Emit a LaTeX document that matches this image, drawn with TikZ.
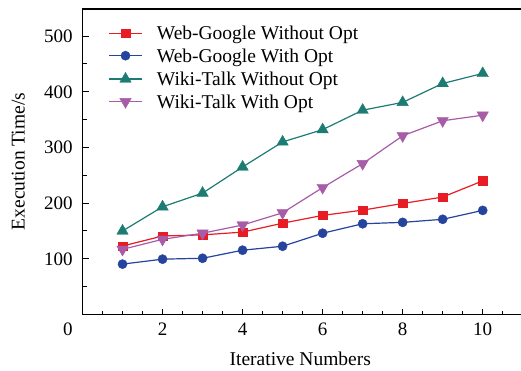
\documentclass[tikz,border=0pt]{standalone}
\usepackage{fontspec}
\setmainfont{Liberation Serif}
\usetikzlibrary{plotmarks}
\definecolor{cred}{RGB}{232,28,36}
\definecolor{cblue}{RGB}{36,68,158}
\definecolor{cteal}{RGB}{28,124,116}
\definecolor{cpurp}{RGB}{168,92,168}
\begin{document}
\begin{tikzpicture}[x=1pt,y=-1pt,
  lbl/.style={font=\fontsize{19.5}{20}\selectfont, inner sep=0pt},
  num/.style={font=\fontsize{19}{20}\selectfont, inner sep=0pt},
  axisline/.style={line width=1.3pt},
  series/.style={line width=1.2pt},
  sqm/.style={mark=square*, mark size=4.2pt, mark options={solid, line width=0.4pt}},
  cim/.style={mark=*, mark size=4.6pt, mark options={solid, line width=0.4pt}},
  upm/.style={mark=triangle*, mark size=6.6pt, mark options={solid, line width=0.4pt}},
  dnm/.style={mark=triangle*, mark size=6.6pt, mark options={solid, line width=0.4pt, rotate=180}},
]
\useasboundingbox (0,0) rectangle (521,371);
% axes frame (right side cut off)
\draw[axisline] (530,9) -- (82.5,9) -- (82.5,314.5) -- (530,314.5);

\begin{scope}[shift={(82.5,314.5)}, x=40.02pt, y=0.5567pt]
  % y ticks
  \foreach \v in {100,200,300,400,500}{
    \draw[line width=1pt] (0,\v) -- ++(6pt,0);
    \node[num, anchor=east] (yl\v) at ([xshift=-9.8pt]0,\v) {\v};
  }
  \foreach \v in {50,150,250,350,450}{
    \draw[line width=1pt] (0,\v) -- ++(4pt,0);
  }
  % x ticks
  \foreach \t in {0.5,1,...,12}{
    \draw[line width=1pt] (\t,0) -- ++(0,3.8pt);
  }
  \foreach \t in {2,4,6,8,10}{
    \draw[line width=1pt] (\t,0) -- ++(0,5.5pt);
    \node[num, anchor=north] (xl\t) at ([yshift=-8.5pt]\t,0) {\t};
  }

  % data
  \draw[series, cred, sqm] plot coordinates {(1,123) (2,141) (3,143) (4,148) (5,164) (6,178) (7,187.5) (8,199.4) (9,211) (10,240)};
  \draw[series, cblue, cim] plot coordinates {(1,90.5) (2,99.4) (3,101) (4,115.5) (5,122.6) (6,146) (7,163) (8,165.5) (9,171) (10,187)};
  \draw[series, cteal, upm] plot coordinates {(1,150) (2,193.5) (3,218) (4,265) (5,310) (6,332) (7,367) (8,381) (9,415) (10,433)};
  \draw[series, cpurp, dnm] plot coordinates {(1,117) (2,135) (3,146) (4,160.7) (5,182.7) (6,228) (7,271) (8,321) (9,348) (10,358)};
\end{scope}

% zero label
\node[num, anchor=north east] (zero) at (72.7,323) {0};

% axis titles
\node[lbl, anchor=base] (xtitle) at (300.3,365) {Iterative Numbers};
\node[lbl, rotate=90, anchor=center] (ytitle) at (18.3,161.5) {Execution Time/s};

% legend
\draw[series, cred] (109,33.3) -- (142,33.3);
\path[cred, sqm] plot coordinates {(125.5,33.3)};
\node[lbl, anchor=base west] (lg1) at (156.7,39.8) {Web-Google Without Opt};

\draw[series, cblue] (109,55.7) -- (142,55.7);
\path[cblue, cim] plot coordinates {(125.5,55.7)};
\node[lbl, anchor=base west] (lg2) at (156.7,62.2) {Web-Google With Opt};

\draw[series, cteal] (109,79) -- (142,79);
\path[cteal, upm] plot coordinates {(125.5,79)};
\node[lbl, anchor=base west] (lg3) at (156.7,85.5) {Wiki-Talk Without Opt};

\draw[series, cpurp] (109,101.7) -- (142,101.7);
\path[cpurp, dnm] plot coordinates {(125.5,101.7)};
\node[lbl, anchor=base west] (lg4) at (156.7,108.2) {Wiki-Talk With Opt};
\end{tikzpicture}
\end{document}
